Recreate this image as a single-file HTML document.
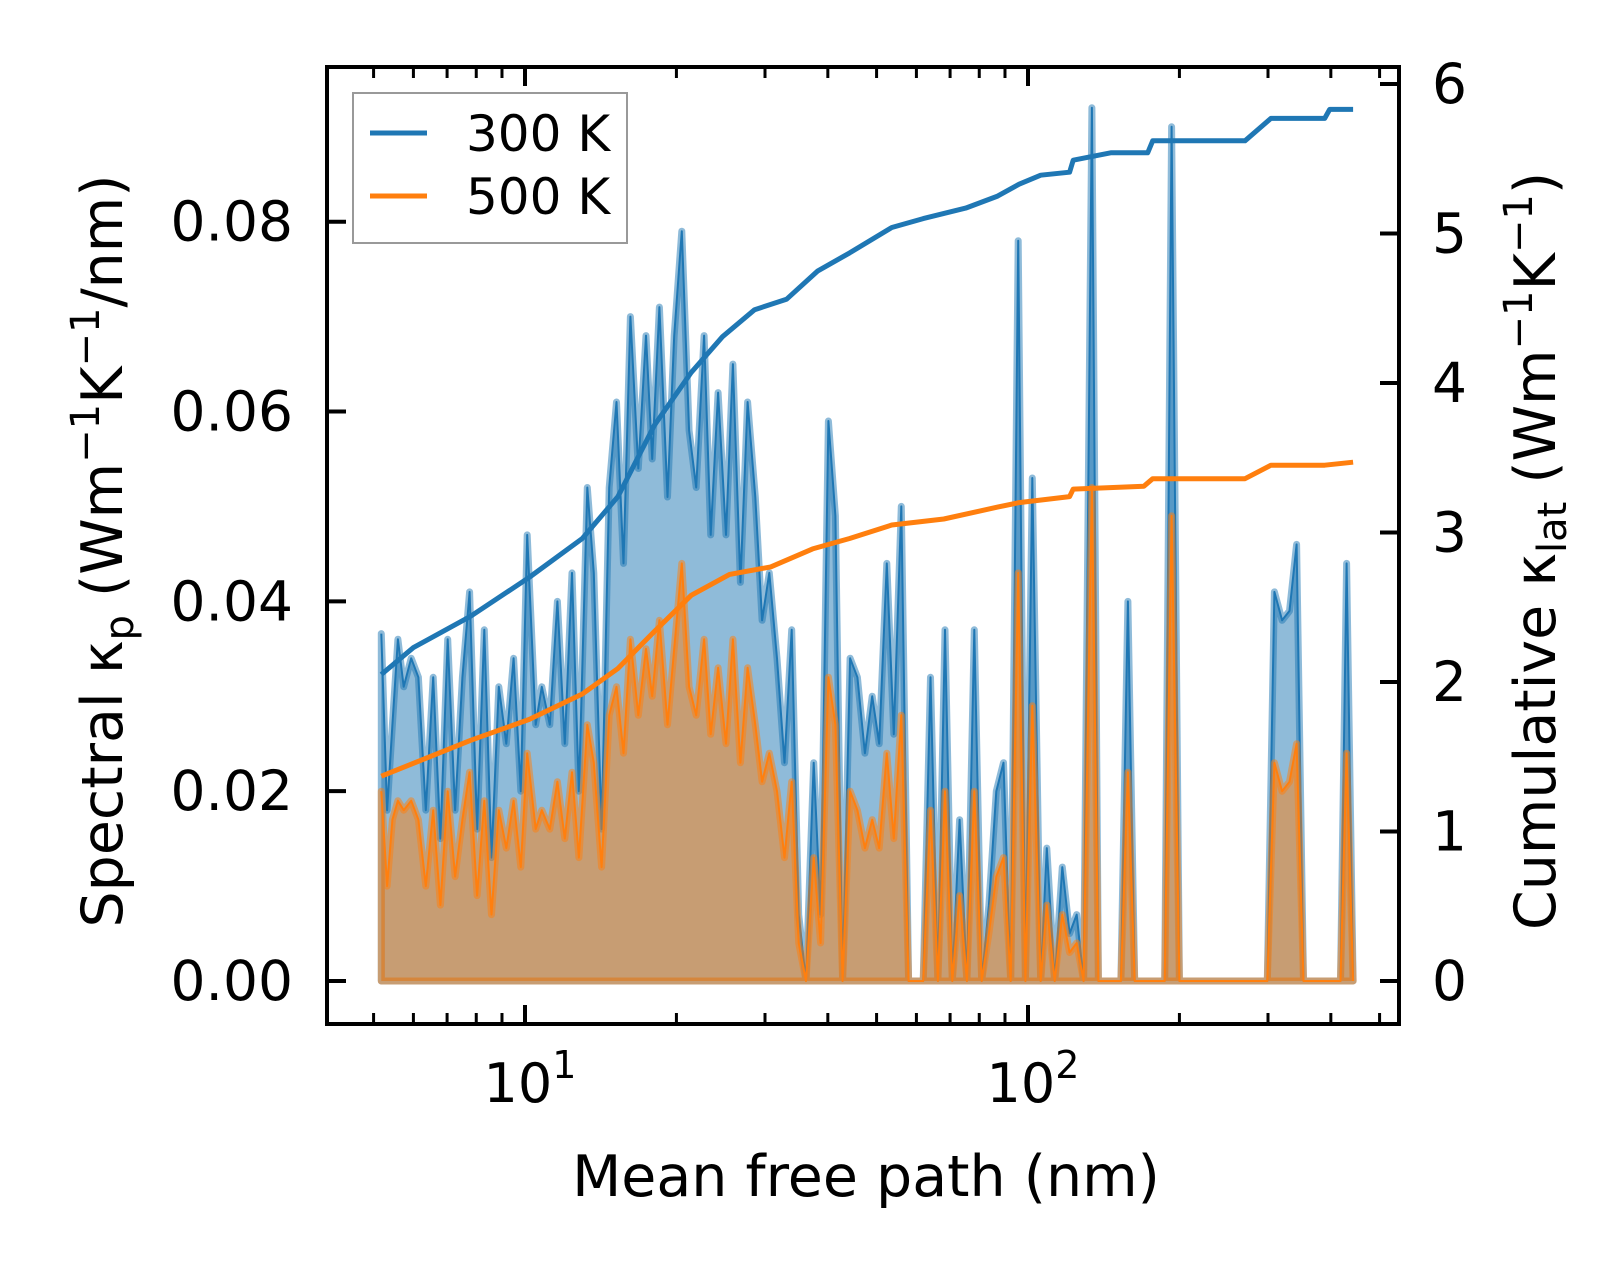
<!DOCTYPE html>
<html><head><meta charset="utf-8"><style>
html,body{margin:0;padding:0;background:#fff;}
svg{display:block;font-family:"DejaVu Sans","Liberation Sans",sans-serif;}
</style></head><body>
<svg id="chart" width="1623" height="1262" viewBox="0 0 1623 1262" xmlns="http://www.w3.org/2000/svg">
<g id="plot"></g>
<g id="axes"></g>
</svg>
<script>
const mfp=[5.18,5.32,5.45,5.59,5.74,5.94,6.14,6.35,6.57,6.79,7.02,7.26,7.51,7.76,8.03,8.30,8.58,8.87,9.18,9.49,9.81,10.1,10.5,10.8,11.2,11.6,12.0,12.4,12.8,13.3,13.7,14.2,14.7,15.2,15.7,16.2,16.8,17.4,17.9,18.5,19.2,19.8,20.5,21.2,21.9,22.7,23.4,24.2,25.1,25.9,26.8,27.7,28.7,29.6,30.6,31.7,32.8,33.9,35.0,36.2,37.5,38.7,40.1,41.4,42.8,44.3,45.8,47.4,49.0,50.6,52.4,54.1,56.0,57.9,59.8,61.9,64.0,66.2,68.4,70.7,73.1,75.6,78.2,80.9,83.6,86.5,89.4,92.4,95.6,98.8,102,106,109,113,117,121,125,129,134,138,143,148,153,158,163,169,175,181,187,193,200,207,214,221,228,236,244,253,261,270,280,289,299,309,320,331,342,353,365,378,391,404,418,430,443];
const spec300=[.0366,.018,.027,.036,.031,.034,.032,.018,.032,.015,.036,.018,.032,.041,.016,.037,.013,.031,.025,.034,.020,.047,.027,.031,.027,.040,.025,.043,.020,.052,.043,.016,.052,.061,.044,.070,.054,.068,.055,.071,.051,.068,.079,.058,.052,.068,.047,.062,.047,.065,.042,.061,.051,.038,.043,.034,.023,.037,.007,0,.023,.007,.059,.049,0,.034,.032,.024,.030,.025,.044,.026,.050,0,0,0,.032,0,.037,0,.017,0,.037,0,.008,.020,.023,0,.078,0,.053,0,.014,0,.012,.005,.007,0,.092,0,0,0,0,.040,0,0,0,0,0,.090,0,0,0,0,0,0,0,0,0,0,0,0,0,.041,.038,.039,.046,0,0,0,0,0,0,.044,0];
const spec500=[.020,.010,.017,.019,.018,.019,.017,.010,.018,.008,.020,.011,.017,.022,.009,.019,.007,.018,.014,.019,.012,.024,.016,.018,.016,.021,.015,.022,.013,.027,.023,.012,.028,.031,.024,.036,.028,.035,.030,.038,.027,.035,.044,.031,.028,.036,.026,.033,.025,.036,.023,.033,.027,.021,.024,.020,.013,.021,.004,0,.013,.004,.032,.027,0,.020,.018,.014,.017,.014,.024,.015,.028,0,0,0,.018,0,.020,0,.009,0,.020,0,.005,.011,.013,0,.043,0,.029,0,.008,0,.007,.003,.004,0,.052,0,0,0,0,.022,0,0,0,0,0,.049,0,0,0,0,0,0,0,0,0,0,0,0,0,.023,.020,.021,.025,0,0,0,0,0,0,.024,0];
const cumX300=[5.18,6.0,7.8,10.2,13.0,15.3,18.1,21.4,24.7,28.6,33.1,38.2,44.2,53.6,61.9,75.2,87,96,106,121,123,146,173,177,270,304,389,398,443];
const cum300=[2.05,2.23,2.44,2.70,2.96,3.24,3.72,4.07,4.31,4.49,4.56,4.75,4.87,5.04,5.10,5.17,5.25,5.33,5.39,5.41,5.49,5.54,5.54,5.62,5.62,5.77,5.77,5.83,5.83];
const cumX500=[5.18,7.8,10.2,13.0,15.3,18.1,21.4,25.5,30.8,37.3,44.2,53.6,68,87,96,121,123,170,177,270,304,389,443];
const cum500=[1.37,1.61,1.75,1.92,2.09,2.34,2.58,2.72,2.77,2.89,2.96,3.05,3.09,3.17,3.20,3.24,3.29,3.31,3.36,3.36,3.45,3.45,3.47];
const yTicksL=[0,0.02,0.04,0.06,0.08];
const yTickLabelsL=["0.00","0.02","0.04","0.06","0.08"];
const yTicksR=[0,1,2,3,4,5,6];

const NS="http://www.w3.org/2000/svg";
const L=327,R=1399,T=67,B=1024;
const px=x=>525+503*Math.log10(x/10);
const pyL=v=>981-v*9491;
const pyR=v=>981-v*149.5;
const plot=document.getElementById('plot'),axes=document.getElementById('axes');
function mk(tag,attrs,parent){const e=document.createElementNS(NS,tag);for(const k in attrs)e.setAttribute(k,attrs[k]);parent.appendChild(e);return e;}

function specPaths(vals){
  let line='';
  mfp.forEach((x,i)=>{line+=(i?'L':'M')+px(x).toFixed(1)+','+pyL(vals[i]).toFixed(1);});
  const area=line+'L'+px(mfp[mfp.length-1]).toFixed(1)+','+pyL(0)+'L'+px(mfp[0]).toFixed(1)+','+pyL(0)+'Z';
  return {line,area};
}
const cfg=[[spec300,'31,119,180','#1f77b4','300'],[spec500,'255,127,14','#ff7f0e','500']];
cfg.forEach(([vals,rgb,col,n])=>{
  const p=specPaths(vals);
  const a=mk('path',{d:p.area,fill:'rgba('+rgb+',0.5)',stroke:'rgba('+rgb+',0.5)','stroke-width':7,'stroke-linejoin':'round'},plot);
  
  
  const l=mk('path',{d:p.line,fill:'none',stroke:col,'stroke-width':2,'stroke-linejoin':'round'},plot);
  
  
});
[[cumX300,cum300,'#1f77b4','300'],[cumX500,cum500,'#ff7f0e','500']].forEach(([xs,vs,col,n])=>{
  let d='';xs.forEach((x,i)=>{d+=(i?'L':'M')+px(x).toFixed(1)+','+pyR(vs[i]).toFixed(1);});
  const l=mk('path',{d:d,fill:'none',stroke:col,'stroke-width':5,'stroke-linejoin':'round'},plot);
  
  
});

const sp=mk('rect',{x:L,y:T,width:R-L,height:B-T,fill:'none',stroke:'#000','stroke-width':4},axes);


for(let dec=1;dec<=100;dec*=10){
  for(let m=1;m<10;m++){
    const v=m*dec,x=px(v);
    if(x<L||x>R)continue;
    const len=m===1?19:11,w=m===1?4:3;
    mk('line',{x1:x,y1:B,x2:x,y2:B-len,stroke:'#000','stroke-width':w},axes);
    mk('line',{x1:x,y1:T,x2:x,y2:T+len,stroke:'#000','stroke-width':w},axes);
  }
}
[[10,'1'],[100,'2']].forEach(([v,e])=>{
  const t=mk('text',{x:px(v)+5,y:1102,'font-size':54,'text-anchor':'middle'},axes);
  
  
  t.innerHTML='10<tspan dy="-24" font-size="38">'+e+'</tspan>';
});
yTicksL.forEach((v,i)=>{
  const y=pyL(v);
  mk('line',{x1:L,y1:y,x2:L+19,y2:y,stroke:'#000','stroke-width':4},axes);
  const t=mk('text',{x:293,y:y+19,'font-size':55,'text-anchor':'end'},axes);
  
  
  t.textContent=yTickLabelsL[i];
});
yTicksR.forEach(v=>{
  const y=pyR(v);
  mk('line',{x1:R,y1:y,x2:R-19,y2:y,stroke:'#000','stroke-width':4},axes);
  const t=mk('text',{x:1432,y:y+19,'font-size':55},axes);
  
  
  t.textContent=String(v);
});
const xl=mk('text',{x:866,y:1196,'font-size':57,'text-anchor':'middle'},axes);


xl.textContent='Mean free path (nm)';
const yl=mk('text',{x:0,y:0,'font-size':57,'text-anchor':'middle',transform:'translate(122,551) rotate(-90)'},axes);


yl.innerHTML='Spectral κ<tspan dy="11" font-size="40">p</tspan><tspan dy="-11"> (Wm</tspan><tspan dy="-23" font-size="40">−1</tspan><tspan dy="23">K</tspan><tspan dy="-23" font-size="40">−1</tspan><tspan dy="23">/nm)</tspan>';
const yr=mk('text',{x:0,y:0,'font-size':57,'text-anchor':'middle',transform:'translate(1555,551) rotate(-90)'},axes);


yr.innerHTML='Cumulative κ<tspan dy="11" font-size="40">lat</tspan><tspan dy="-11"> (Wm</tspan><tspan dy="-23" font-size="40">−1</tspan><tspan dy="23">K</tspan><tspan dy="-23" font-size="40">−1</tspan><tspan dy="23">)</tspan>';
const lg=mk('g',{},axes);


mk('rect',{x:353,y:93,width:274,height:150,fill:'rgba(255,255,255,0.8)',stroke:'#999','stroke-width':2},lg);
[['#1f77b4','300 K',133,151],['#ff7f0e','500 K',196,214]].forEach(([c,t,ly,ty])=>{
  const e=mk('g',{},lg);
  
  
  mk('line',{x1:370,y1:ly,x2:427,y2:ly,stroke:c,'stroke-width':5},e);
  const tx=mk('text',{x:466,y:ty,'font-size':50},e);
  tx.textContent=t;
});
</script>
</body></html>
